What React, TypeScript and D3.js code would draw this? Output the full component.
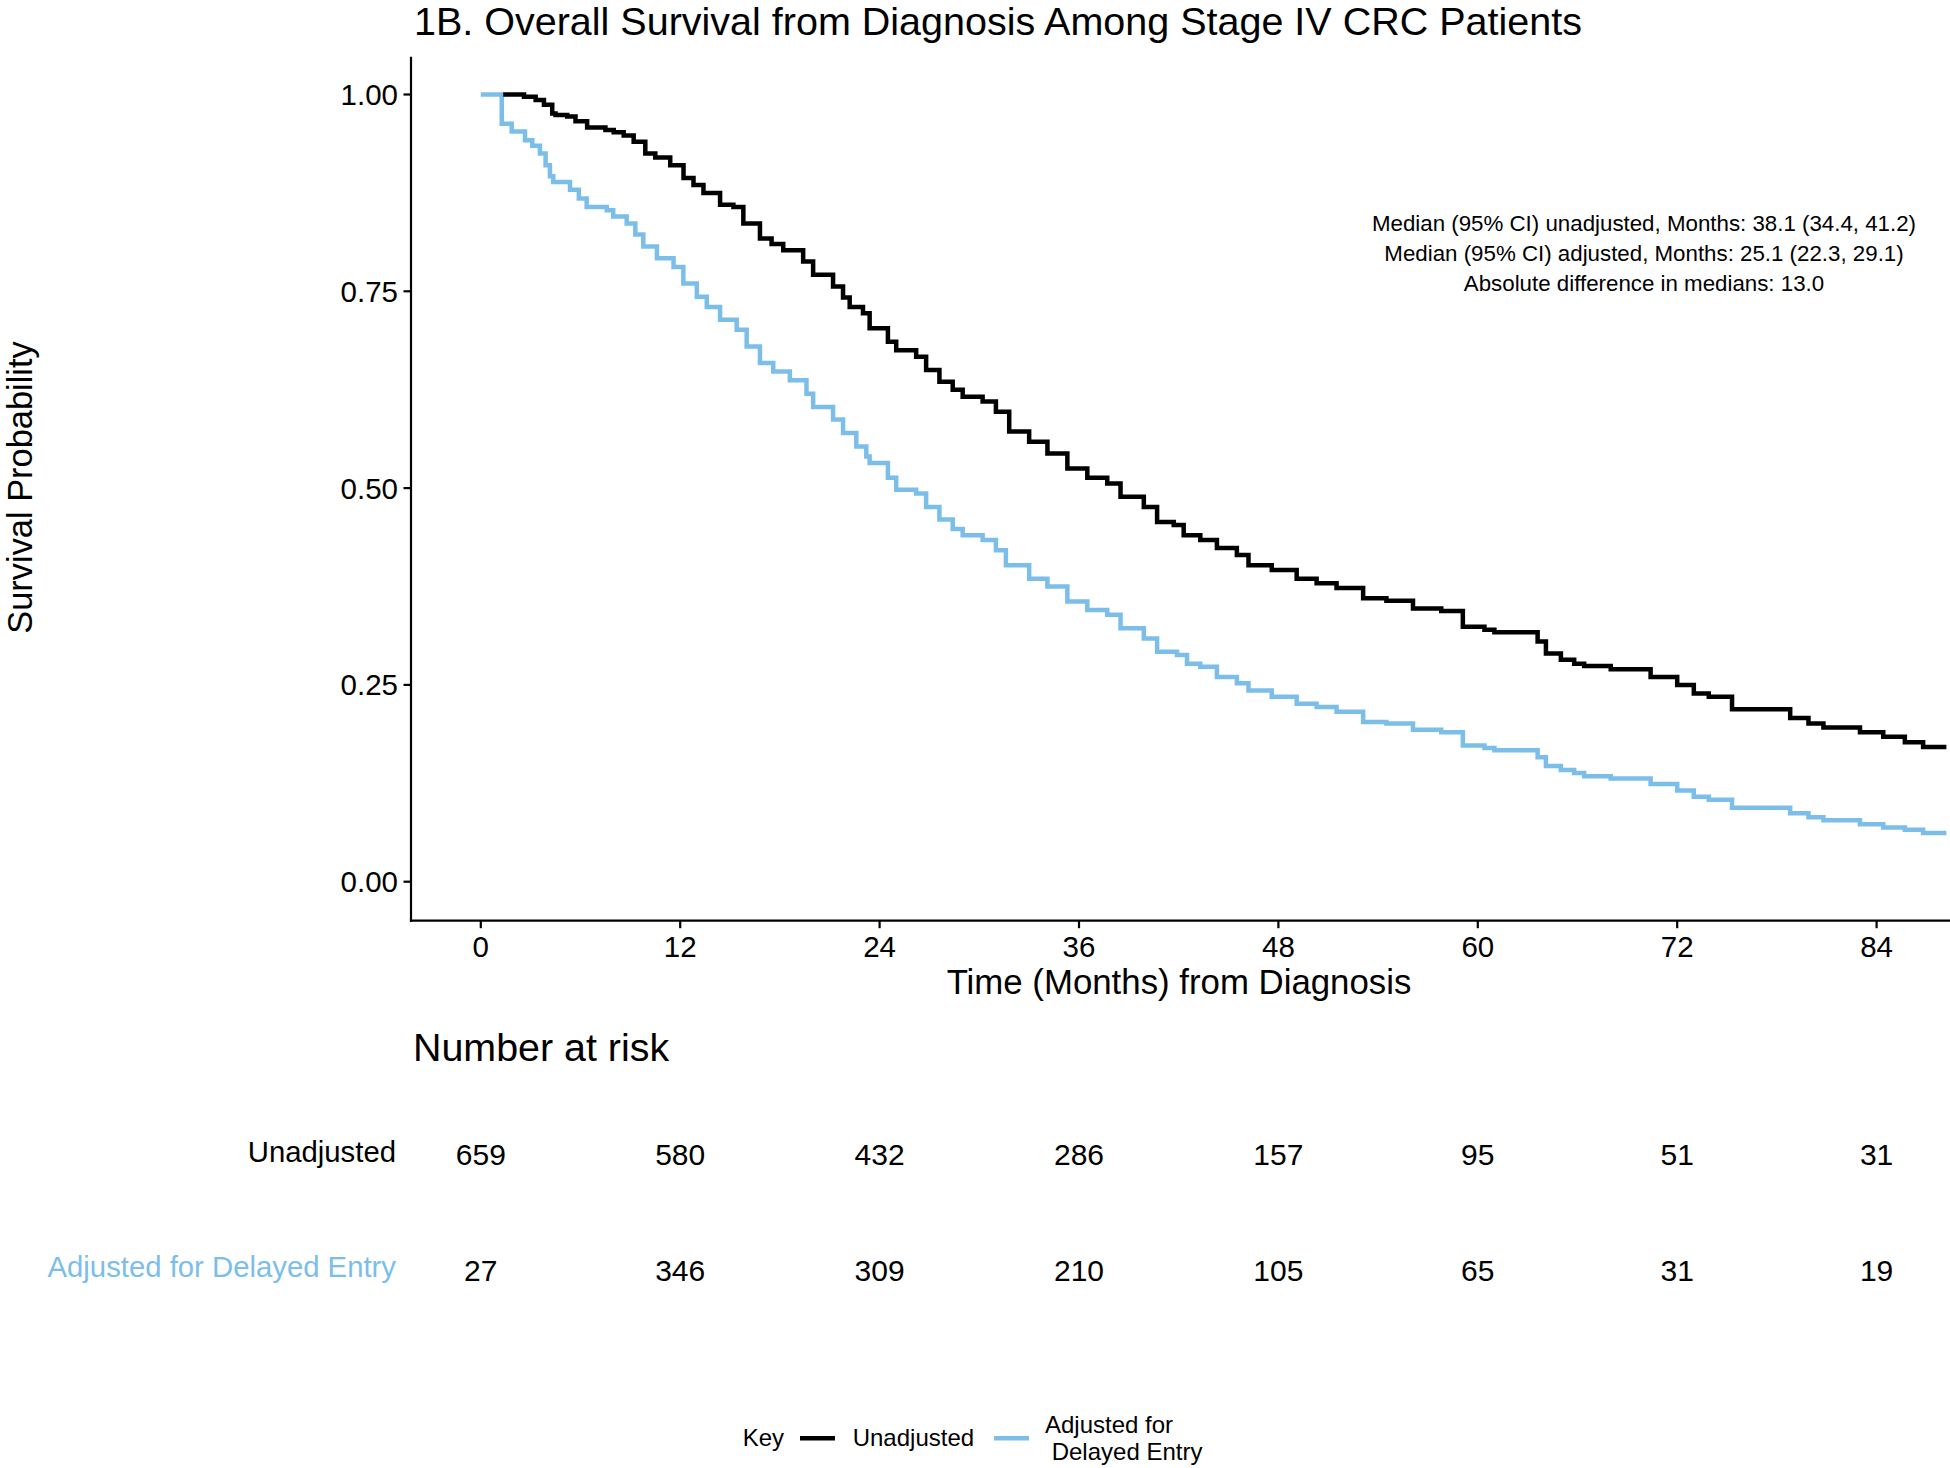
import React from "react";
import * as d3 from "d3";

// ---- Data ----
const unadjTime = [1.35, 2.6, 3.3, 3.8, 4.3, 4.5, 5.2, 5.7, 6.4, 7.5, 8.0, 8.6, 9.2, 9.9, 10.5, 11.4, 12.2, 12.8, 13.4, 14.4, 15.2, 15.8, 16.8, 17.5, 18.2, 19.4, 20.0, 21.2, 21.8, 22.2, 23.0, 23.4, 24.5, 25.0, 26.2, 26.8, 27.6, 28.4, 29.0, 30.2, 31.0, 31.8, 33.0, 34.1, 35.3, 36.5, 37.7, 38.5, 39.9, 40.7, 41.7, 42.3, 43.3, 44.3, 45.5, 46.2, 47.6, 49.1, 50.3, 51.5, 53.1, 54.5, 56.1, 57.8, 59.1, 60.4, 61.0, 63.6, 64.1, 65.0, 65.8, 66.4, 68.0, 70.4, 72.0, 73.0, 73.9, 75.3, 78.8, 79.9, 80.8, 83.0, 84.4, 85.7, 86.8, 88.2];
const unadjSurv = [1.0, 0.997, 0.993, 0.987, 0.976, 0.974, 0.972, 0.966, 0.958, 0.955, 0.952, 0.948, 0.94, 0.925, 0.92, 0.91, 0.894, 0.885, 0.875, 0.86, 0.857, 0.836, 0.817, 0.81, 0.802, 0.788, 0.771, 0.756, 0.742, 0.73, 0.722, 0.703, 0.686, 0.675, 0.667, 0.65, 0.635, 0.625, 0.616, 0.61, 0.597, 0.572, 0.559, 0.544, 0.525, 0.513, 0.506, 0.489, 0.476, 0.457, 0.453, 0.44, 0.434, 0.424, 0.415, 0.402, 0.396, 0.385, 0.379, 0.373, 0.36, 0.357, 0.347, 0.344, 0.324, 0.32, 0.317, 0.305, 0.29, 0.282, 0.277, 0.274, 0.27, 0.26, 0.25, 0.239, 0.235, 0.219, 0.208, 0.201, 0.196, 0.19, 0.184, 0.177, 0.171, 0.171];

const adjTime = [0, 1.26, 1.86, 2.66, 3.1, 3.56, 3.9, 4.16, 4.36, 5.37, 5.9, 6.37, 7.58, 7.97, 8.78, 9.3, 9.78, 10.6, 11.6, 12.19, 13.0, 13.6, 14.4, 15.4, 16.0, 16.8, 17.6, 18.6, 19.6, 20.0, 21.2, 21.8, 22.6, 23.2, 23.4, 24.5, 25.0, 26.2, 26.8, 27.6, 28.4, 29.0, 30.2, 31.0, 31.6, 33.0, 34.1, 35.3, 36.5, 37.7, 38.5, 39.9, 40.7, 41.9, 42.5, 43.3, 44.3, 45.5, 46.2, 47.6, 49.1, 50.3, 51.5, 53.1, 54.5, 56.1, 57.8, 59.1, 60.4, 61.0, 63.6, 64.1, 65.0, 65.8, 66.4, 68.0, 70.4, 72.0, 73.0, 73.9, 75.3, 78.8, 79.9, 80.8, 83.0, 84.4, 85.7, 86.8, 88.2];
const adjSurv = [1.0, 0.963, 0.953, 0.942, 0.935, 0.925, 0.91, 0.896, 0.889, 0.879, 0.868, 0.857, 0.853, 0.845, 0.836, 0.822, 0.807, 0.792, 0.781, 0.76, 0.743, 0.73, 0.714, 0.701, 0.68, 0.659, 0.648, 0.637, 0.62, 0.603, 0.587, 0.57, 0.553, 0.54, 0.532, 0.513, 0.498, 0.493, 0.476, 0.46, 0.448, 0.44, 0.434, 0.421, 0.402, 0.385, 0.375, 0.356, 0.345, 0.339, 0.322, 0.309, 0.292, 0.288, 0.277, 0.273, 0.26, 0.252, 0.243, 0.235, 0.226, 0.222, 0.216, 0.203, 0.201, 0.193, 0.19, 0.173, 0.17, 0.167, 0.158, 0.147, 0.142, 0.138, 0.134, 0.131, 0.124, 0.116, 0.108, 0.104, 0.094, 0.087, 0.082, 0.078, 0.073, 0.069, 0.066, 0.062, 0.062];

const xTicks = [0, 12, 24, 36, 48, 60, 72, 84];
const yTicks = [0, 0.25, 0.5, 0.75, 1];
const yTickLabels = ["0.00", "0.25", "0.50", "0.75", "1.00"];
const riskTimes = [0, 12, 24, 36, 48, 60, 72, 84];
const riskUnadj = [659, 580, 432, 286, 157, 95, 51, 31];
const riskAdj = [27, 346, 309, 210, 105, 65, 31, 19];
const seriesNames = ["Unadjusted", "Adjusted for Delayed Entry"];
const annotationLines = [
  "Median (95% CI) unadjusted, Months: 38.1 (34.4, 41.2)",
  "Median (95% CI) adjusted, Months: 25.1 (22.3, 29.1)",
  "Absolute difference in medians: 13.0",
];

const BLACK = "#000000";
const BLUE = "#7BBEEA";
const FONT = "'Liberation Sans', Arial, Helvetica, sans-serif";

export default function App() {
  const W = 1950;
  const H = 1468;
  const x = d3.scaleLinear().domain([0, 84]).range([480.8, 1876.6]);
  const y = d3.scaleLinear().domain([0, 1]).range([881.7, 94.5]);
  const axisX = 411;
  const axisY = 920.7;
  const plotTop = 56.7;

  const line = d3
    .line<[number, number]>()
    .x((d) => x(d[0]))
    .y((d) => y(d[1]))
    .curve(d3.curveStepAfter);

  const unadj: [number, number][] = unadjTime.map((t, i) => [t, unadjSurv[i]]);
  const adj: [number, number][] = adjTime.map((t, i) => [t, adjSurv[i]]);

  return (
    <svg
      width={W}
      height={H}
      viewBox={`0 0 ${W} ${H}`}
      style={{ position: "absolute", left: 0, top: 0, display: "block", background: "#fff" }}
      fontFamily={FONT}
    >
      <rect x={0} y={0} width={W} height={H} fill="#fff" />
      {/* Title */}
      <text x={414} y={34.5} fontSize={39.5} fill="#000">
        1B. Overall Survival from Diagnosis Among Stage IV CRC Patients
      </text>

      {/* Curves */}
      <path d={line(adj) || ""} fill="none" stroke={BLUE} strokeWidth={4.5} strokeLinejoin="miter" />
      <path d={line(unadj) || ""} fill="none" stroke={BLACK} strokeWidth={4.5} strokeLinejoin="miter" />

      {/* Axes */}
      <line x1={axisX} x2={axisX} y1={plotTop} y2={axisY + 1.1} stroke="#000" strokeWidth={2.2} />
      <line x1={axisX - 1.1} x2={W} y1={axisY} y2={axisY} stroke="#000" strokeWidth={2.2} />
      {yTicks.map((v, i) => (
        <g key={"yt" + v}>
          <line x1={axisX - 7.5} x2={axisX} y1={y(v)} y2={y(v)} stroke="#000" strokeWidth={2.2} />
          <text x={398} y={y(v) + 10.5} fontSize={29.5} textAnchor="end" fill="#000">
            {yTickLabels[i]}
          </text>
        </g>
      ))}
      {xTicks.map((v) => (
        <g key={"xt" + v}>
          <line x1={x(v)} x2={x(v)} y1={axisY} y2={axisY + 7.5} stroke="#000" strokeWidth={2.2} />
          <text x={x(v)} y={957} fontSize={29.5} textAnchor="middle" fill="#000">
            {v}
          </text>
        </g>
      ))}
      <text x={1179} y={994} fontSize={34.8} textAnchor="middle" fill="#000">
        Time (Months) from Diagnosis
      </text>
      <text
        transform={`translate(31.5, 487.5) rotate(-90)`}
        fontSize={34.4}
        textAnchor="middle"
        fill="#000"
      >
        Survival Probability
      </text>

      {/* Annotation */}
      {annotationLines.map((s, i) => (
        <text key={"an" + i} x={1644} y={230.5 + i * 30.4} fontSize={22.3} textAnchor="middle" fill="#000">
          {s}
        </text>
      ))}

      {/* Risk table */}
      <text x={413} y={1061} fontSize={39.4} fill="#000">
        Number at risk
      </text>
      <text x={396} y={1161.7} fontSize={29.3} textAnchor="end" fill={BLACK}>
        {seriesNames[0]}
      </text>
      <text x={396} y={1276.7} fontSize={29.3} textAnchor="end" fill={BLUE}>
        {seriesNames[1]}
      </text>
      {riskTimes.map((t, i) => (
        <g key={"rk" + t}>
          <text x={x(t)} y={1165} fontSize={30} textAnchor="middle" fill="#000">
            {riskUnadj[i]}
          </text>
          <text x={x(t)} y={1281} fontSize={30} textAnchor="middle" fill="#000">
            {riskAdj[i]}
          </text>
        </g>
      ))}

      {/* Legend */}
      <text x={742.7} y={1446} fontSize={24} fill="#000">
        Key
      </text>
      <line x1={800} x2={835} y1={1438.3} y2={1438.3} stroke={BLACK} strokeWidth={4.5} />
      <text x={852.7} y={1446} fontSize={24} fill="#000">
        {seriesNames[0]}
      </text>
      <line x1={994} x2={1029} y1={1438.3} y2={1438.3} stroke={BLUE} strokeWidth={4.5} />
      <text x={1045} y={1433} fontSize={24} fill="#000">
        Adjusted for
      </text>
      <text x={1051.7} y={1460} fontSize={24} fill="#000">
        Delayed Entry
      </text>
    </svg>
  );
}
